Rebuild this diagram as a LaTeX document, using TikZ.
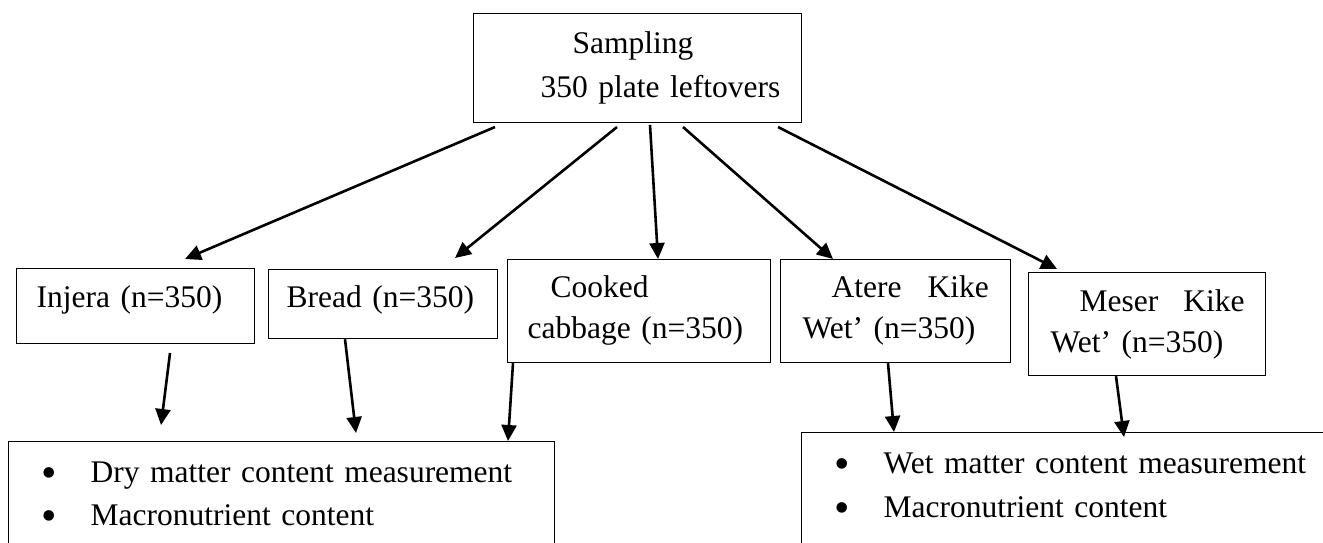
\documentclass[tikz,border=0pt]{standalone}
\usepackage{fontspec}
\usepackage{graphicx}
\setmainfont{Liberation Serif}
\usetikzlibrary{arrows.meta}
\newcommand{\bigdot}{\raisebox{-4.5pt}{\scalebox{1.4}{•}}}
\begin{document}
\begin{tikzpicture}[x=1pt,y=-1pt,
	every node/.style={font=\fontsize{31.5}{41}\selectfont},
	box/.style={draw, line width=1.2pt, inner sep=0pt, anchor=north west, align=left},
	arr/.style={line width=2.6pt, -{Triangle[length=16pt,width=15pt]}}]
	\useasboundingbox (0,0) rectangle (1323,542);
	\clip (0,0) rectangle (1323,542);
	% Hop tren cung
	\node[box, text width=328pt, text height=40pt, text depth=69pt] (sampling) at (473,13) {\hspace*{99pt}Sampling\\[3pt]\hspace*{67pt}350 plate leftovers};
	% Cac loai thuc pham
	\node[box, text width=238pt, text height=39pt, text depth=36pt] (injera) at (16,268) {\hspace*{20pt}Injera (n=350)};
	\node[box, text width=229pt, text height=38pt, text depth=31pt] (bread) at (268,269) {\hspace*{18pt}Bread (n=350)};
	\node[box, text width=263pt, text height=38pt, text depth=65pt] (cabbage) at (507,259) {\hspace*{43pt}Cooked\\\hspace*{20pt}cabbage (n=350)};
	\node[box, text width=230pt, text height=38pt, text depth=65pt] (atere) at (780,259) {\hspace*{51pt}Atere\hspace{26pt}Kike\\\hspace*{22pt}Wet’ (n=350)};
	\node[box, text width=237pt, text height=39pt, text depth=64pt] (meser) at (1028,272) {\hspace*{51pt}Meser\hspace{25pt}Kike\\\hspace*{22pt}Wet’ (n=350)};
	% Hai hop do
	\node[box, text width=546pt, text height=41pt, text depth=100pt] (dry) at (8,441) {\hspace*{33.3pt}\makebox[48.7pt][l]{\bigdot}Dry matter content measurement\\[2pt]\hspace*{33.3pt}\makebox[48.7pt][l]{\bigdot}Macronutrient content};
	\node[box, text width=540pt, text height=41pt, text depth=110pt] (wet) at (801,432) {\hspace*{33.3pt}\makebox[48.7pt][l]{\bigdot}Wet matter content measurement\\[3pt]\hspace*{33.3pt}\makebox[48.7pt][l]{\bigdot}Macronutrient content};
	% Cac dau mui ten tu do
	\coordinate (s1) at (495,127);
	\coordinate (s2) at (617,127);
	\coordinate (s3) at (650,125);
	\coordinate (s4) at (683,127);
	\coordinate (s5) at (778,127);
	\coordinate (e1) at (185,259);
	\coordinate (e2) at (455,258);
	\coordinate (e5) at (1057,269);
	\coordinate (u1) at (170,353);
	\coordinate (v1) at (161,425);
	\coordinate (v2) at (356,433);
	\coordinate (v5) at (1124,437);
	% Mui ten
	\draw[arr] (s1) -- (e1);
	\draw[arr] (s2) -- (e2);
	\draw[arr] (s3) -- (658,0 |- cabbage.north);
	\draw[arr] (s4) -- (833,0 |- atere.north);
	\draw[arr] (s5) -- (e5);
	\draw[arr] (u1) -- (v1);
	\draw[arr] (345,0 |- bread.south) -- (v2);
	\draw[arr] (513,0 |- cabbage.south) -- (508,0 |- dry.north);
	\draw[arr] (888,0 |- atere.south) -- (894,0 |- wet.north);
	\draw[arr] (1116,0 |- meser.south) -- (v5);
\end{tikzpicture}
\end{document}
